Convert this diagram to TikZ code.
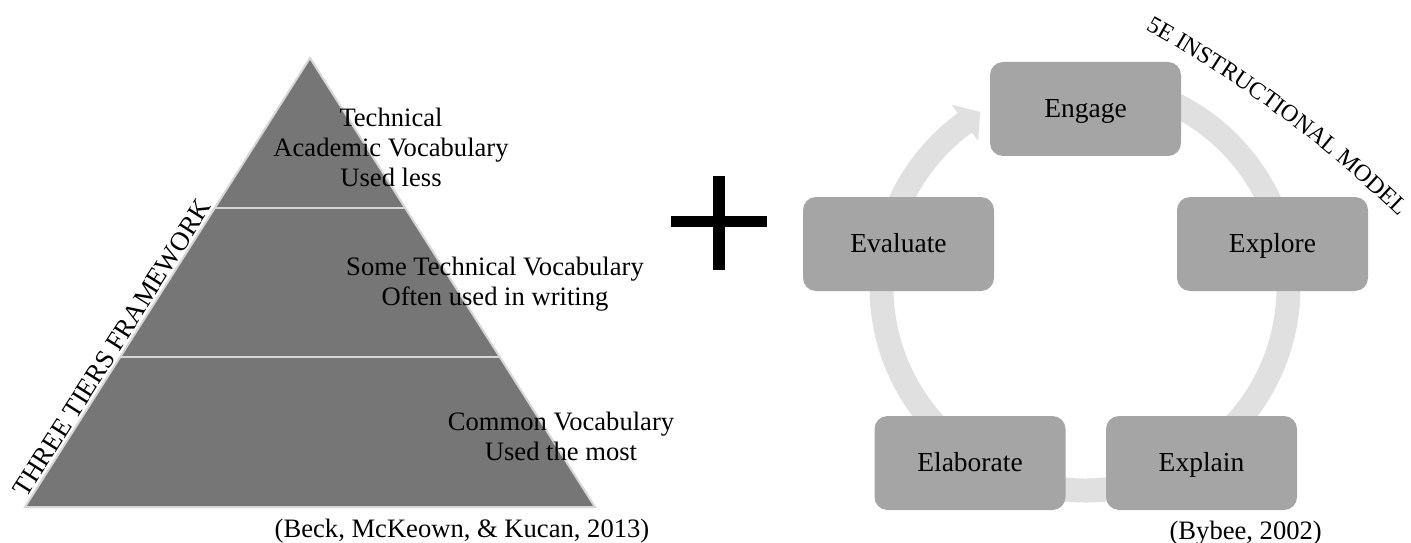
\documentclass[tikz,border=0pt]{standalone}
\usepackage{fontspec}
\setmainfont{Liberation Serif}
\usetikzlibrary{calc,decorations.text}
\definecolor{pyrgray}{HTML}{767676}
\definecolor{rimgray}{HTML}{D6D6D6}
\definecolor{boxgray}{HTML}{A5A5A5}
\definecolor{ringgray}{HTML}{E0E0E0}
\newcommand{\tierfont}{\fontsize{26.6pt}{30pt}\selectfont}
\newcommand{\stagefont}{\fontsize{27.5pt}{33pt}\selectfont}
\newcommand{\titlefont}{\fontsize{24pt}{28pt}\selectfont}
\begin{document}
\begin{tikzpicture}[x=1pt,y=1pt,
  tiertext/.style={align=center, font=\tierfont, inner sep=0pt},
  cite/.style={font=\tierfont, inner sep=0pt, anchor=base},
  stage/.style={rectangle, rounded corners=13pt, fill=boxgray,
    minimum width=191pt, minimum height=94pt, inner sep=0pt,
    font=\stagefont, text height=18.8pt, text depth=1.4pt},
  ring/.style={draw=ringgray, line width=24pt},
  rim/.style={draw=rimgray, line width=2.2pt}]
\useasboundingbox (0,0) rectangle (1411,542);

% three-tier pyramid
\coordinate (apex) at (310,484);
\coordinate (bl) at (25,35);
\coordinate (br) at (595,35);
\fill[pyrgray] (apex) -- (br) -- (bl) -- cycle;
\draw[rim] ($(bl)!2/3!(apex)$) -- ($(br)!2/3!(apex)$);
\draw[rim] ($(bl)!1/3!(apex)$) -- ($(br)!1/3!(apex)$);
\draw[rim, line width=2pt] (apex) -- (br) -- (bl) -- cycle;

\node[tiertext] (tierA) at (391,394.8) {Technical\\Academic Vocabulary\\Used less};
\node[tiertext] (tierB) at (495,257.9) {Some Technical Vocabulary\\Often used in writing};
\node[tiertext] (tierC) at (561,105.3) {Common Vocabulary\\Used the most};
\node[cite, rotate=57.6] (tiers) at (119.5,189.4) {THREE TIERS FRAMEWORK};
\node[cite] (beck) at (462,5) {(Beck, McKeown, \& Kucan, 2013)};

% plus sign
\fill[black] (671,315) rectangle (767,326.5);
\fill[black] (713,272) rectangle (724.5,366);

% 5E cycle: ring with a single visible arrow head
\coordinate (hub) at (1085,255);
\draw[ring] ($(hub)+(126:203.5)$) arc[start angle=126, end angle=470, radius=203.5];
\fill[ringgray] ($(hub)+(126.2:181)$) -- ($(hub)+(120.9:204)$) -- ($(hub)+(126.2:226)$) -- cycle;

\node[stage] (engage) at (1085.5,433) {Engage};
\node[stage] (explore) at (1272.5,298) {Explore};
\node[stage] (explain) at (1201.5,79) {Explain};
\node[stage] (elaborate) at (970,79) {Elaborate};
\node[stage] (evaluate) at (898.5,298) {Evaluate};

\node[cite] (bybee) at (1245.7,3) {(Bybee, 2002)};

% curved title
\coordinate (titlec) at (565,-539);
\path[decorate, decoration={text along path, text format delimiters={|}{|},
    text={|\titlefont|5E INSTRUCTIONAL MODEL}}]
  ($(titlec)+(61.1:1201)$) arc[start angle=61.1, end angle=36, radius=1201];
\end{tikzpicture}
\end{document}
